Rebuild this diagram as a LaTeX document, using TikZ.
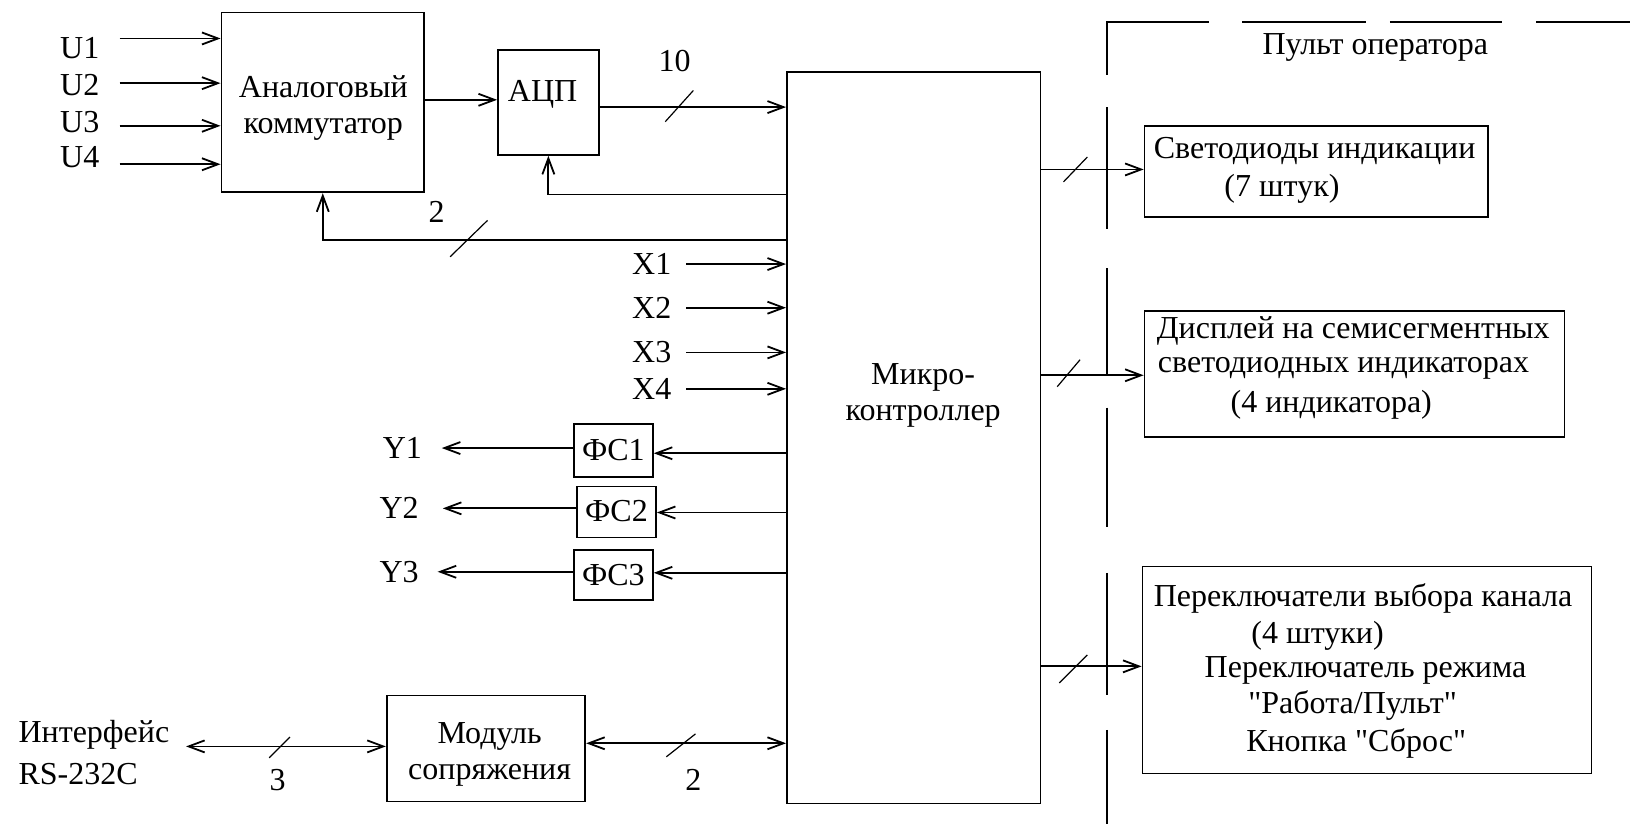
\documentclass[tikz,border=0pt]{standalone}
\usepackage{fontspec}
\setmainfont{Liberation Serif}[Ligatures=TeXOff]
\usetikzlibrary{arrows.meta,fit}
\begin{document}
\begin{tikzpicture}[x=0.5198pt,y=-0.5198pt,line width=0.9pt,
  box/.style={draw,inner sep=0pt,line width=0.9pt},
  txt/.style={font=\fontsize{16}{18}\selectfont,inner sep=0pt},
  arr/.style={-{Straight Barb[length=8pt,width=6pt]}},
  darr/.style={{Straight Barb[length=8pt,width=6pt]}-{Straight Barb[length=8pt,width=6pt]}},
  tick/.style={line width=0.6pt},
  bnd/.style={line width=0.9pt}]
\useasboundingbox (0,0) rectangle (1568,793);

% boxes
\node[box,fit={(213,12) (408,185)}] (com) {};
\node[box,fit={(479,48) (576,149)}] (adc) {};
\node[box,fit={(757,69) (1001,773)}] (mcu) {};
\node[box,fit={(552,408) (628,459)}] (fs1) {};
\node[box,fit={(555,468) (631,517)}] (fs2) {};
\node[box,fit={(552,529) (628,577)}] (fs3) {};
\node[box,fit={(372,669) (563,771)}] (mod) {};
\node[box,fit={(1101,121) (1431,209)}] (led) {};
\node[box,fit={(1101,299) (1505,420)}] (disp) {};
\node[box,fit={(1099,545) (1531,744)}] (sw) {};

% box texts
\node[txt,align=center] (comt) at (311,104) {Аналоговый\\коммутатор};
\node[txt] (adct) at (522,91) {АЦП};
\node[txt,align=center] (mcut) at (888,380) {Микро-\\контроллер};
\node[txt] (fs1t) at (590,433) {ФС1};
\node[txt] (fs2t) at (593,492) {ФС2};
\node[txt] (fs3t) at (590,553) {ФС3};
\node[txt,align=center] (modt) at (471,726) {Модуль\\сопряжения};
\node[txt,anchor=west] (led1) at (1109,145) {Светодиоды индикации};
\node[txt,anchor=west] (led2) at (1177,182) {(7 штук)};
\node[txt,anchor=west] (disp1) at (1112,318) {Дисплей на семисегментных};
\node[txt,anchor=west] (disp2) at (1113,354) {светодиодных индикаторах};
\node[txt,anchor=west] (disp3) at (1183,389) {(4 индикатора)};
\node[txt,anchor=west] (sw1) at (1109,576) {Переключатели выбора канала};
\node[txt,anchor=west] (sw2) at (1203,612) {(4 штуки)};
\node[txt,anchor=west] (sw3) at (1158,645) {Переключатель режима};
\node[txt,anchor=west] (sw4) at (1200,679) {"Работа/Пульт"};
\node[txt,anchor=west] (sw5) at (1198,715) {Кнопка "Сброс"};
\node[txt] (pult) at (1323,46) {Пульт оператора};

% U inputs
\foreach \i/\ly/\ty in {1/37/46,2/80/82,3/121/117,4/158/151}{
  \node[txt,anchor=west] (u\i) at (57,\ty) {U\i};
  \coordinate (us\i) at (115,\ly);
  \draw[arr] (us\i) -- (com.west |- us\i);
}

% commutator -> ADC -> MCU
\draw[arr] (com.east |- 0,96) -- (adc.west |- 0,96);
\draw[arr] (adc.east |- 0,103) -- (mcu.west |- 0,103);
\node[txt] (n10) at (649,59) {10};
\draw[tick] (640,117) -- (667,87);

% feedbacks
\draw[arr] (mcu.west |- 0,187) -| (adc.south);
\draw[arr] (mcu.west |- 0,231) -| (com.south);
\node[txt] (n2a) at (420,204) {2};
\draw[tick] (433,247) -- (469,212);

% X inputs
\foreach \i/\y in {1/254,2/296,3/339,4/374}{
  \node[txt] (x\i) at (627,\y) {X\i};
  \coordinate (xs\i) at (660,\y);
  \draw[arr] (xs\i) -- (mcu.west |- xs\i);
}

% FS
\draw[arr] (mcu.west |- 0,436) -- (fs1.east |- 0,436);
\draw[arr] (mcu.west |- 0,493) -- (fs2.east |- 0,493);
\draw[arr] (mcu.west |- 0,551) -- (fs3.east |- 0,551);
\coordinate (ye1) at (425,431);
\coordinate (ye2) at (426,489);
\coordinate (ye3) at (421,550);
\draw[arr] (fs1.west |- ye1) -- (ye1);
\draw[arr] (fs2.west |- ye2) -- (ye2);
\draw[arr] (fs3.west |- ye3) -- (ye3);
\node[txt] (y1) at (387,431) {Y1};
\node[txt] (y2) at (384,489) {Y2};
\node[txt] (y3) at (384,550) {Y3};

% interface
\node[txt,anchor=west] (if1) at (17,707) {Интерфейс};
\node[txt,anchor=west] (if2) at (17,745) {RS-232C};
\coordinate (ife) at (179,718);
\draw[darr] (ife) -- (mod.west |- ife);
\draw[tick] (259,729) -- (279,709);
\node[txt] (n3) at (267,750) {3};
\draw[darr] (mod.east |- 0,715) -- (mcu.west |- 0,715);
\draw[tick] (641,728) -- (669,706);
\node[txt] (n2b) at (667,750) {2};

% outputs to operator panel
\draw[arr] (mcu.east |- 0,163) -- (led.west |- 0,163);
\draw[tick] (1023,175) -- (1046,151);
\draw[arr] (mcu.east |- 0,361) -- (disp.west |- 0,361);
\draw[tick] (1017,372) -- (1039,346);
\draw[arr] (mcu.east |- 0,641) -- (sw.west |- 0,641);
\draw[tick] (1019,657) -- (1046,630);

% operator panel boundary (long-dash)
\draw[bnd] (1065,72) -- (1065,21) -- (1163,21);
\draw[bnd] (1195,21) -- (1314,21);
\draw[bnd] (1337,21) -- (1445,21);
\draw[bnd] (1478,21) -- (1568,21);
\draw[bnd] (1065,103) -- (1065,220);
\draw[bnd] (1065,258) -- (1065,361);
\draw[bnd] (1065,392) -- (1065,507);
\draw[bnd] (1065,551) -- (1065,669);
\draw[bnd] (1065,702) -- (1065,793);
\end{tikzpicture}
\end{document}
